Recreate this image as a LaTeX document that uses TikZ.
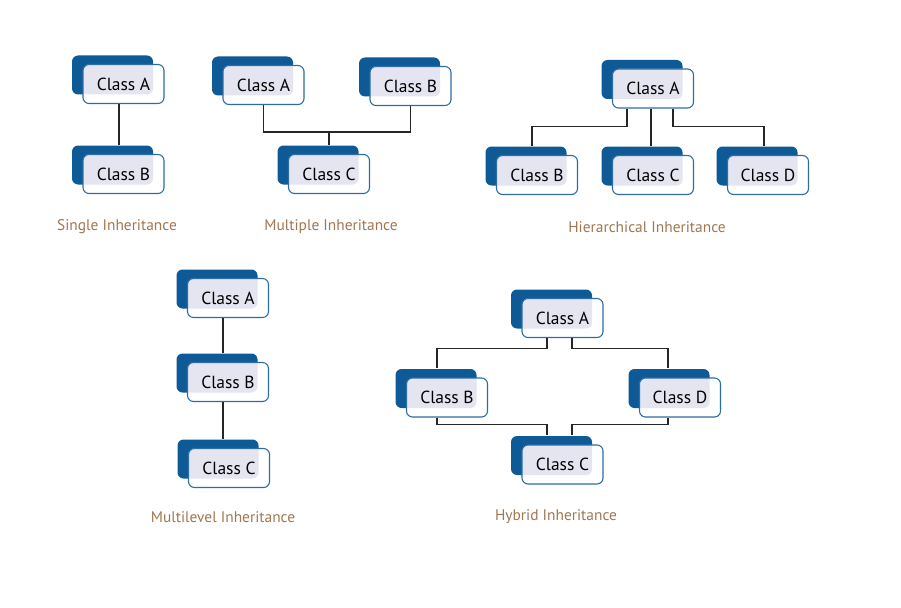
\documentclass[tikz,border=0pt]{standalone}
\usepackage{fontspec}
\setmainfont{PT Sans}
\definecolor{backblue}{HTML}{0E5A96}
\definecolor{edgeblue}{HTML}{2E6DA4}
\definecolor{lav}{HTML}{E4E5F1}
\definecolor{capbrown}{HTML}{A0774F}
\tikzset{
  cls/.style={draw=edgeblue, line width=1.1pt, fill=white, rounded corners=6pt,
    minimum width=81pt, minimum height=39pt, inner sep=0pt,
    font=\fontsize{17.5}{18}\selectfont,
    preaction={fill=backblue, transform canvas={xshift=-11pt, yshift=9pt}},
    path picture={\fill[lav, rounded corners=6pt]
      ([xshift=-11pt, yshift=9pt]path picture bounding box.south west) rectangle
      ([xshift=-11pt, yshift=9pt]path picture bounding box.north east);}},
  caption/.style={text=capbrown, font=\fontsize{15.4}{16}\selectfont},
  link/.style={line width=1.1pt, draw=black!85}
}
\begin{document}
\begin{tikzpicture}[x=1pt, y=-1pt]
  \useasboundingbox (0, 0) rectangle (901, 607);
  % single
  \node (sA) [cls] at (123.5, 84) {Class A};
  \node (sB) [cls] at (123.5, 174) {Class B};
  \node (capSingle) [caption] at (117, 227) {Single Inheritance};
  \draw [link] ([xshift=-4.5pt]sA.south) -- ([xshift=-4.5pt, yshift=9pt]sB.north);
  % multiple
  \node (mA) [cls] at (263.5, 85) {Class A};
  \node (mB) [cls] at (410.5, 86) {Class B};
  \node (mC) [cls] at (329, 174) {Class C};
  \node (capMultiple) [caption] at (331, 227) {Multiple Inheritance};
  \coordinate (mJ) at (329, 132);
  \draw [link] (mA.south) |- (mJ) -| (mB.south)
               (mJ) -- ([yshift=9pt]mC.north);
  % hierarchical
  \node (hA) [cls] at (653, 88.5) {Class A};
  \node (hB) [cls] at (537, 175) {Class B};
  \node (hC) [cls] at (653, 175) {Class C};
  \node (hD) [cls] at (768, 175) {Class D};
  \node (capHier) [caption] at (647, 227) {Hierarchical Inheritance};
  \draw [link] ([xshift=-26pt]hA.south) -- ++(0, 18) -| ([xshift=-5pt, yshift=9pt]hB.north)
               ([xshift=-2pt]hA.south) -- ([xshift=-2pt, yshift=9pt]hC.north)
               ([xshift=20pt]hA.south) -- ++(0, 18) -| ([xshift=-4pt, yshift=9pt]hD.north);
  % multilevel
  \node (lA) [cls] at (228, 298) {Class A};
  \node (lB) [cls] at (228, 382) {Class B};
  \node (lC) [cls] at (229, 468) {Class C};
  \node (capMulti) [caption] at (223, 517) {Multilevel Inheritance};
  \draw [link] ([xshift=-5pt]lA.south) -- ([xshift=-5pt, yshift=9pt]lB.north)
               ([xshift=-5pt]lB.south) -- ([xshift=-6pt, yshift=9pt]lC.north);
  % hybrid
  \node (yA) [cls] at (562.5, 318) {Class A};
  \node (yB) [cls] at (447, 397.5) {Class B};
  \node (yD) [cls] at (680, 397.5) {Class D};
  \node (yC) [cls] at (562.5, 464.5) {Class C};
  \node (capHybrid) [caption] at (556, 517) {Hybrid Inheritance};
  \draw [link] ([xshift=-15.5pt]yA.south) -- ++(0, 10.5) -| ([xshift=-10pt, yshift=9pt]yB.north)
               ([xshift=9.5pt]yA.south) -- ++(0, 10.5) -| ([xshift=-12pt, yshift=9pt]yD.north)
               ([xshift=-10pt]yB.south) -- ++(0, 7) -| ([xshift=-15.5pt, yshift=9pt]yC.north)
               ([xshift=-12pt]yD.south) -- ++(0, 7) -| ([xshift=9.5pt, yshift=9pt]yC.north);
\end{tikzpicture}
\end{document}
